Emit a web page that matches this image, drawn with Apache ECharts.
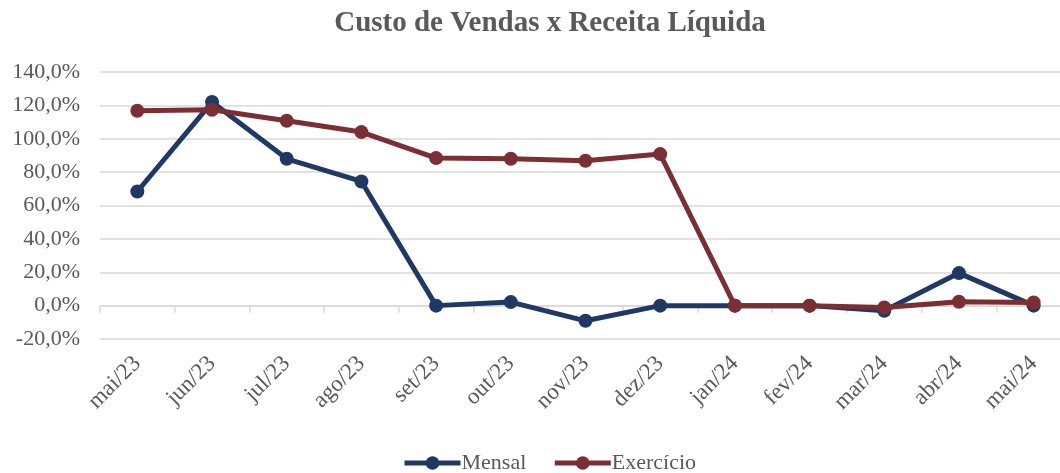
<!DOCTYPE html>
<html>
<head>
<meta charset="utf-8">
<script src="https://cdn.jsdelivr.net/npm/echarts@6/dist/echarts.min.js"></script>
<style>
  html, body { margin: 0; padding: 0; background: #fff; overflow: hidden; }
  #wrap { width: 1060px; height: 473px; overflow: hidden; }
  /* the plot runs slightly past the right edge, so the canvas is wider than the frame */
  #chart { width: 1090px; height: 473px; }
</style>
</head>
<body>
<div id="wrap"><div id="chart"></div></div>
<script>
// Monthly periods
const months = ['mai/23', 'jun/23', 'jul/23', 'ago/23', 'set/23', 'out/23', 'nov/23',
                'dez/23', 'jan/24', 'fev/24', 'mar/24', 'abr/24', 'mai/24'];
// Cost of sales as % of net revenue — monthly ratio
const mensal = [68.4, 122.0, 88.0, 74.4, 0.0, 2.1, -9.1, 0.0, 0.0, 0.0, -3.1, 19.5, 0.0];
// Cost of sales as % of net revenue — fiscal year to date
const exercicio = [116.8, 117.4, 110.8, 104.0, 88.4, 88.0, 86.8, 90.8, 0.0, 0.0, -1.1, 2.3, 1.9];

const FONT = '"Liberation Serif", "DejaVu Serif", serif';
const GREY = '#595959';
const BLUE = '#203864';
const RED = '#7B2F34';

const chart = echarts.init(document.getElementById('chart'), null, { renderer: 'canvas' });

const pct = v => v.toFixed(1).replace('.', ',') + '%';

chart.setOption({
  animation: false,
  backgroundColor: '#fff',
  title: {
    text: 'Custo de Vendas x Receita Líquida',
    left: 545,
    textAlign: 'center',
    top: 4,
    textStyle: { fontFamily: FONT, fontSize: 29, fontWeight: 'bold', color: GREY }
  },
  legend: {
    bottom: -6,
    left: 397,
    itemWidth: 56,
    itemHeight: 17,
    itemGap: 26,
    lineStyle: { width: 5 },
    textStyle: { fontFamily: FONT, fontSize: 22, color: GREY, padding: [0, 0, 0, -4] },
    data: ['Mensal', 'Exercício']
  },
  grid: { left: 100, top: 72, width: 971, height: 267 },
  xAxis: [
    {
      type: 'category',
      data: months,
      boundaryGap: true,
      position: 'bottom',
      axisLine: { show: false, onZero: false },
      axisTick: { show: false },
      axisLabel: {
        rotate: 45,
        margin: 21,
        fontFamily: FONT,
        fontSize: 23,
        color: GREY
      }
    },
    {
      type: 'category',
      data: months,
      boundaryGap: true,
      position: 'bottom',
      axisLine: { show: true, onZero: true, lineStyle: { color: '#d9d9d9', width: 1.5 } },
      axisTick: { show: true, length: 7, lineStyle: { color: '#d9d9d9', width: 1.5 } },
      axisLabel: { show: false }
    }
  ],
  yAxis: {
    type: 'value',
    min: -20,
    max: 140,
    interval: 20,
    axisLine: { show: false },
    axisTick: { show: false },
    axisLabel: {
      margin: 20,
      fontFamily: FONT,
      fontSize: 22,
      color: GREY,
      formatter: pct
    },
    splitLine: { lineStyle: { color: '#d9d9d9', width: 1.5 } }
  },
  series: [
    {
      name: 'Mensal',
      type: 'line',
      xAxisIndex: 0,
      data: mensal,
      symbol: 'circle',
      symbolSize: 14,
      lineStyle: { color: BLUE, width: 5 },
      itemStyle: { color: BLUE },
      z: 2
    },
    {
      name: 'Exercício',
      type: 'line',
      xAxisIndex: 0,
      data: exercicio,
      symbol: 'circle',
      symbolSize: 14,
      lineStyle: { color: RED, width: 5 },
      itemStyle: { color: RED },
      z: 3
    }
  ]
});
</script>
</body>
</html>
